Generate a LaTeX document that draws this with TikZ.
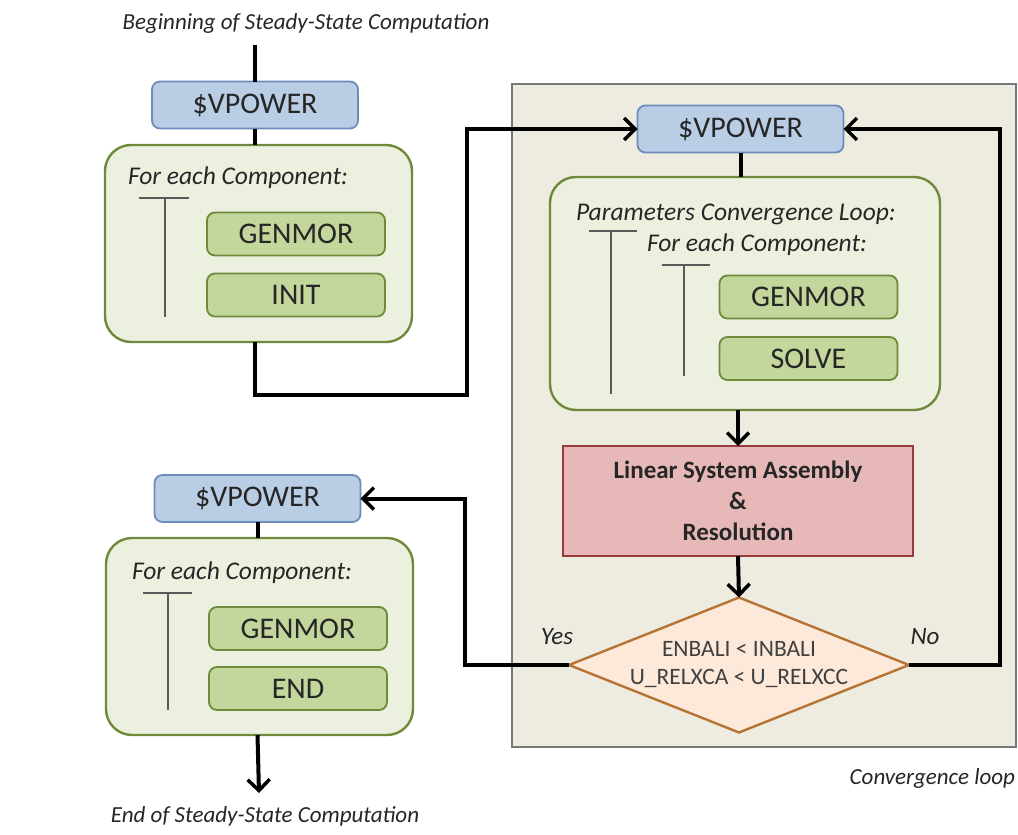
\documentclass[tikz,border=0pt]{standalone}
\usepackage{fontspec}
\setmainfont{Carlito}
\usetikzlibrary{arrows.meta,shapes.geometric}
\definecolor{txt}{RGB}{38,38,38}
\definecolor{diatxt}{RGB}{64,64,64}
\definecolor{bluefill}{RGB}{185,205,229}
\definecolor{blueline}{RGB}{110,140,185}
\definecolor{gfill}{RGB}{235,241,222}
\definecolor{gline}{RGB}{110,138,58}
\definecolor{ginner}{RGB}{195,214,155}
\definecolor{redfill}{RGB}{230,185,184}
\definecolor{redline}{RGB}{150,60,60}
\definecolor{diafill}{RGB}{253,233,217}
\definecolor{dialine}{RGB}{182,115,52}
\definecolor{framefill}{RGB}{238,236,225}
\definecolor{frameline}{RGB}{120,120,120}
\definecolor{brk}{RGB}{90,90,90}
\begin{document}
\begin{tikzpicture}[x=1pt,y=-1pt,
  every node/.style={text=txt, inner sep=0pt, outer sep=0pt},
  vpbox/.style={draw=blueline, fill=bluefill, line width=1.8pt, rounded corners=8pt,
     minimum width=206pt, minimum height=47pt, font=\fontsize{30}{31}\selectfont},
  outer/.style={draw=gline, fill=gfill, line width=2.4pt, rounded corners=26pt},
  inbox/.style={draw=gline, fill=ginner, line width=1.8pt, rounded corners=8pt,
     minimum width=178pt, minimum height=43pt, font=\fontsize{30}{31}\selectfont},
  lbl/.style={font=\fontsize{25.5}{26}\selectfont\itshape, anchor=west},
  captxt/.style={font=\fontsize{23}{24}\selectfont\itshape},
  conn/.style={line width=4pt, draw=black},
  arr/.style={conn, -{Straight Barb[length=11pt,width=22pt,line width=3.5pt]}},
  brack/.style={draw=brk, line width=1.5pt}
]
\path[use as bounding box] (0,0) rectangle (1018,835);
% frame
\node[draw=frameline, fill=framefill, line width=2pt, minimum width=504pt, minimum height=663pt] (frame) at (764,415.5) {};
\node[captxt, anchor=east] (convtxt) at (1015,778) {Convergence loop};
% titles
\node[captxt] (title) at (306,23) {Beginning of Steady-State Computation};
\node[captxt] (endtxt) at (265,816) {End of Steady-State Computation};
% left top block
\node[vpbox] (vp1) at (255,105) {\$VPOWER};
\node[outer, minimum width=307pt, minimum height=197pt] (g1) at (258.5,243.5) {};
\node[lbl] (g1t) at (128,178) {For each Component:};
\node[inbox] (gen1) at (296,234) {GENMOR};
\node[inbox] (init) at (296,295) {INIT};
\coordinate (b1a) at (139,198); \coordinate (b1b) at (189,198);
\coordinate (b1c) at (165,198); \coordinate (b1d) at (165,317);
\draw[brack] (b1a) -- (b1b) (b1c) -- (b1d);
% right block
\node[vpbox] (vp2) at (740.5,129) {\$VPOWER};
\node[outer, minimum width=390pt, minimum height=233pt] (g2) at (745,293.5) {};
\node[lbl] (g2t) at (576,214) {Parameters Convergence Loop:};
\node[lbl] (g2u) at (647,245) {For each Component:};
\node[inbox] (gen2) at (808.5,297) {GENMOR};
\node[inbox] (solve) at (808.5,358.5) {SOLVE};
\coordinate (b2a) at (589,231); \coordinate (b2b) at (637,231);
\coordinate (b2c) at (611,231); \coordinate (b2d) at (611,394);
\draw[brack] (b2a) -- (b2b) (b2c) -- (b2d);
\coordinate (b3a) at (662,265); \coordinate (b3b) at (710,265);
\coordinate (b3c) at (684,265); \coordinate (b3d) at (684,376);
\draw[brack] (b3a) -- (b3b) (b3c) -- (b3d);
\node[draw=redline, fill=redfill, line width=1.8pt, minimum width=350pt, minimum height=110pt,
  align=center, font=\fontsize{25}{31}\selectfont\bfseries] (lin) at (738,501)
  {Linear System Assembly\\\&\\Resolution};
\node[diamond, draw=dialine, fill=diafill, line width=2.4pt, aspect=2.52,
  minimum width=340pt, minimum height=135pt, align=center,
  font=\fontsize{23.5}{28}\selectfont, text=diatxt] (dia) at (739,665)
  {ENBALI < INBALI\\U\_RELXCA < U\_RELXCC};
\node[captxt, font=\fontsize{25}{26}\selectfont\itshape] (yes) at (557,637) {Yes};
\node[captxt, font=\fontsize{25}{26}\selectfont\itshape] (no) at (925,637) {No};
% bottom left block
\node[vpbox] (vp3) at (257.5,498.5) {\$VPOWER};
\node[outer, minimum width=307pt, minimum height=197pt] (g3) at (259.5,636.5) {};
\node[lbl] (g3t) at (132,573) {For each Component:};
\node[inbox] (gen3) at (298,628.5) {GENMOR};
\node[inbox] (endb) at (298,688.5) {END};
\coordinate (b4a) at (143,593); \coordinate (b4b) at (192,593);
\coordinate (b4c) at (168,593); \coordinate (b4d) at (168,710);
\draw[brack] (b4a) -- (b4b) (b4c) -- (b4d);
% connectors
\coordinate (c0) at (255,45);
\draw[conn] (c0) -- (vp1.north);
\draw[conn] (vp1.south) -- (vp1.south |- g1.north);
\coordinate (c1) at (255,395); \coordinate (c2) at (467,395); \coordinate (c3) at (467,129);
\draw[arr] (vp1.south |- g1.south) -- (c1) -- (c2) -- (c3) -- (vp2.west);
\draw[conn] (vp2.south) -- (vp2.south |- g2.north);
\draw[arr] (lin.north |- g2.south) -- (lin.north);
\draw[arr] (lin.south) -- (dia.north);
\coordinate (y1) at (465,665); \coordinate (y2) at (465,498.5);
\draw[arr] (dia.west) -- (y1) -- (y2) -- (vp3.east);
\coordinate (n1) at (1000,665); \coordinate (n2) at (1000,129);
\draw[arr] (dia.east) -- (n1) -- (n2) -- (vp2.east);
\draw[conn] (vp3.south) -- (vp3.south |- g3.north);
\coordinate (e1) at (259,793);
\draw[arr] (vp3.south |- g3.south) -- (e1);
\end{tikzpicture}
\end{document}
